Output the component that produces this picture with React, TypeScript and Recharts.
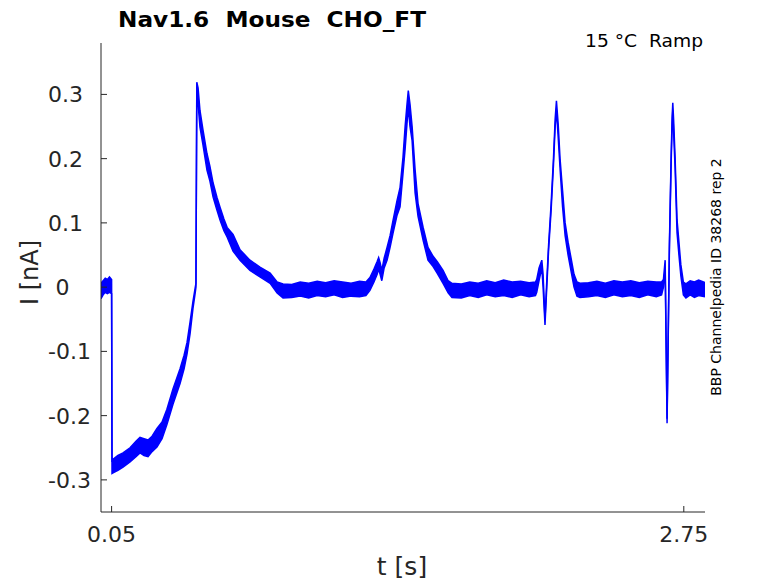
import React from 'react';
import { ComposedChart, Area, XAxis, YAxis } from 'recharts';

// time (s)
const TIME = [
  0.000, 0.010, 0.020, 0.030, 0.040, 0.050, 0.052, 0.057, 0.080, 0.104,
  0.137, 0.165, 0.184, 0.203, 0.222, 0.241, 0.264, 0.288, 0.311, 0.340,
  0.373, 0.392, 0.406, 0.420, 0.434, 0.444, 0.448, 0.452, 0.458, 0.467,
  0.481, 0.500, 0.514, 0.529, 0.547, 0.562, 0.580, 0.595, 0.623, 0.656,
  0.703, 0.750, 0.798, 0.831, 0.859, 0.900, 0.940, 0.980, 1.020, 1.060,
  1.100, 1.140, 1.180, 1.220, 1.250, 1.269, 1.288, 1.303, 1.310, 1.317,
  1.325, 1.336, 1.350, 1.364, 1.378, 1.397, 1.411, 1.425, 1.435, 1.444,
  1.450, 1.458, 1.468, 1.482, 1.496, 1.520, 1.543, 1.567, 1.586, 1.614,
  1.638, 1.656, 1.700, 1.740, 1.780, 1.820, 1.860, 1.900, 1.940, 1.980,
  2.020, 2.050, 2.056, 2.067, 2.080, 2.086, 2.095, 2.102, 2.112, 2.124,
  2.135, 2.143, 2.149, 2.157, 2.166, 2.178, 2.190, 2.204, 2.218, 2.232,
  2.246, 2.260, 2.300, 2.340, 2.380, 2.420, 2.460, 2.500, 2.540, 2.580,
  2.620, 2.645, 2.654, 2.662, 2.671, 2.682, 2.690, 2.695, 2.698, 2.702,
  2.709, 2.718, 2.727, 2.736, 2.748, 2.760, 2.780, 2.800, 2.820, 2.850,
];

// lower edge of the overlapping sweeps (nA)
const LOW = [
  -0.018, -0.012, -0.008, -0.010, -0.008, -0.010, -0.290, -0.289, -0.285, -0.280,
  -0.272, -0.264, -0.258, -0.262, -0.264, -0.256, -0.249, -0.236, -0.214, -0.182,
  -0.150, -0.127, -0.104, -0.073, -0.033, -0.010, 0.000, 0.300, 0.285, 0.249,
  0.222, 0.182, 0.165, 0.140, 0.120, 0.104, 0.088, 0.078, 0.056, 0.042,
  0.026, 0.016, 0.006, -0.009, -0.017, -0.016, -0.014, -0.017, -0.013, -0.015,
  -0.012, -0.016, -0.014, -0.015, -0.013, -0.005, 0.008, 0.020, 0.028, 0.020,
  0.010, 0.030, 0.042, 0.062, 0.084, 0.112, 0.125, 0.177, 0.215, 0.255,
  0.280, 0.250, 0.228, 0.147, 0.110, 0.073, 0.042, 0.032, 0.022, 0.006,
  -0.009, -0.016, -0.017, -0.013, -0.016, -0.012, -0.015, -0.013, -0.016, -0.012,
  -0.015, -0.013, -0.008, 0.010, 0.030, 0.000, -0.059, -0.010, 0.058, 0.120,
  0.190, 0.250, 0.275, 0.235, 0.185, 0.125, 0.080, 0.050, 0.025, 0.000,
  -0.014, -0.016, -0.015, -0.013, -0.016, -0.012, -0.015, -0.013, -0.016, -0.012,
  -0.015, -0.012, 0.000, 0.030, -0.212, 0.058, 0.190, 0.255, 0.275, 0.240,
  0.185, 0.085, 0.050, 0.018, -0.012, -0.017, -0.012, -0.016, -0.013, -0.015,
];

// upper edge of the overlapping sweeps (nA)
const HIGH = [
  0.006, 0.010, 0.014, 0.012, 0.016, 0.012, -0.272, -0.268, -0.262, -0.258,
  -0.250, -0.240, -0.234, -0.236, -0.238, -0.232, -0.220, -0.210, -0.190, -0.158,
  -0.127, -0.106, -0.086, -0.055, -0.022, -0.002, 0.006, 0.319, 0.310, 0.275,
  0.245, 0.208, 0.188, 0.162, 0.140, 0.124, 0.106, 0.093, 0.082, 0.058,
  0.042, 0.031, 0.022, 0.008, 0.005, 0.004, 0.008, 0.006, 0.009, 0.007,
  0.010, 0.008, 0.006, 0.009, 0.008, 0.015, 0.028, 0.040, 0.046, 0.038,
  0.026, 0.045, 0.062, 0.080, 0.104, 0.135, 0.155, 0.202, 0.250, 0.285,
  0.306, 0.285, 0.250, 0.183, 0.130, 0.093, 0.062, 0.048, 0.040, 0.026,
  0.010, 0.006, 0.005, 0.008, 0.006, 0.010, 0.007, 0.011, 0.008, 0.009,
  0.007, 0.008, 0.012, 0.030, 0.042, 0.020, -0.050, 0.000, 0.066, 0.130,
  0.200, 0.262, 0.290, 0.255, 0.200, 0.150, 0.100, 0.070, 0.045, 0.020,
  0.008, 0.006, 0.007, 0.009, 0.006, 0.010, 0.008, 0.010, 0.007, 0.009,
  0.008, 0.008, 0.012, 0.042, -0.205, 0.066, 0.200, 0.265, 0.287, 0.260,
  0.200, 0.105, 0.070, 0.035, 0.008, 0.005, 0.010, 0.008, 0.011, 0.007,
];

const X_TICKS = [0.05, 2.75];
const X_TICK_LABELS = ['0.05', '2.75'];
const Y_TICKS = [-0.3, -0.2, -0.1, 0, 0.1, 0.2, 0.3];
const Y_TICK_LABELS = ['-0.3', '-0.2', '-0.1', '0', '0.1', '0.2', '0.3'];
const X_DOMAIN = [0, 2.85];
const Y_DOMAIN = [-0.35, 0.38];

const TITLE = 'Nav1.6  Mouse  CHO_FT';
const SUBTITLE = '15 °C  Ramp';
const SIDE_NOTE = 'BBP Channelpedia ID 38268 rep 2';
const X_LABEL = 't [s]';
const Y_LABEL = 'I [nA]';

const FONT = '"DejaVu Sans", sans-serif';
const INK = '#262626';
const TRACE = '#0000ff';

const data = TIME.map((t, i) => ({ t, band: [LOW[i], HIGH[i]] }));

const AXIS_BOTTOM = 512;
const AXIS_LEFT = 101;

const XTick = (props: any) => {
  const { x, payload } = props;
  const idx = X_TICKS.indexOf(payload.value);
  return (
    <g>
      <line x1={x} x2={x} y1={AXIS_BOTTOM} y2={AXIS_BOTTOM - 6} stroke={INK} strokeWidth={1} />
      <text x={x} y={542} textAnchor="middle" fontFamily={FONT} fontSize={22} fill={INK}>
        {idx >= 0 ? X_TICK_LABELS[idx] : String(payload.value)}
      </text>
    </g>
  );
};

const YTick = (props: any) => {
  const { y, payload } = props;
  const idx = Y_TICKS.indexOf(payload.value);
  const label = idx >= 0 ? Y_TICK_LABELS[idx] : String(payload.value);
  const isZero = label === '0';
  return (
    <g>
      <line x1={AXIS_LEFT} x2={AXIS_LEFT + 6} y1={y} y2={y} stroke={INK} strokeWidth={1} />
      <text
        x={isZero ? 62.5 : 48}
        y={y + 8}
        textAnchor={isZero ? 'middle' : 'start'}
        fontFamily={FONT}
        fontSize={22}
        fill={INK}
      >
        {label}
      </text>
    </g>
  );
};

export default function App() {
  return (
    <div style={{ position: 'absolute', left: 0, top: 0, width: 778, height: 583, background: '#fff' }}>
      <ComposedChart
        width={778}
        height={583}
        data={data}
        margin={{ top: 43, right: 73, bottom: 0, left: 0 }}
      >
        <XAxis
          dataKey="t"
          type="number"
          domain={X_DOMAIN}
          ticks={X_TICKS}
          allowDataOverflow
          height={71}
          axisLine={{ stroke: INK, strokeWidth: 1 }}
          tickLine={false}
          tickSize={0}
          tickMargin={0}
          tick={<XTick />}
          interval={0}
        />
        <YAxis
          type="number"
          domain={Y_DOMAIN}
          ticks={Y_TICKS}
          allowDataOverflow
          width={101}
          axisLine={{ stroke: INK, strokeWidth: 1 }}
          tickLine={false}
          tickSize={0}
          tickMargin={0}
          tick={<YTick />}
          interval={0}
        />
        <Area
          dataKey="band"
          type="linear"
          stroke={TRACE}
          strokeWidth={1.5}
          fill={TRACE}
          fillOpacity={1}
          isAnimationActive={false}
          dot={false}
          activeDot={false}
        />
        <text
          x={118}
          y={27}
          fontFamily={FONT}
          fontSize={21}
          fontWeight="bold"
          fill="#000"
          textLength={308}
          lengthAdjust="spacingAndGlyphs"
          style={{ whiteSpace: 'pre' }}
        >
          {TITLE}
        </text>
        <text
          x={585}
          y={47}
          fontFamily={FONT}
          fontSize={18}
          fill="#000"
          textLength={118}
          lengthAdjust="spacingAndGlyphs"
          style={{ whiteSpace: 'pre' }}
        >
          {SUBTITLE}
        </text>
        <text
          x={721}
          y={277}
          transform="rotate(-90 721 277)"
          textAnchor="middle"
          fontFamily={FONT}
          fontSize={14}
          fill="#000"
        >
          {SIDE_NOTE}
        </text>
        <text x={402} y={575} textAnchor="middle" fontFamily={FONT} fontSize={25} fill={INK}>
          {X_LABEL}
        </text>
        <text
          x={38}
          y={272.5}
          transform="rotate(-90 38 272.5)"
          textAnchor="middle"
          fontFamily={FONT}
          fontSize={24}
          fill={INK}
        >
          {Y_LABEL}
        </text>
      </ComposedChart>
    </div>
  );
}
